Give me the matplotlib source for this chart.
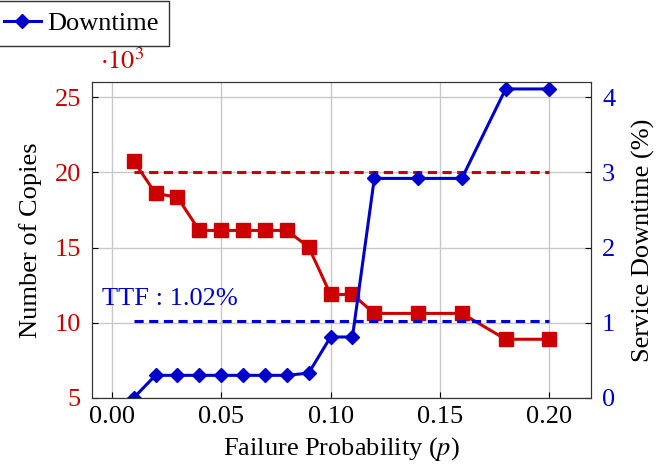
import matplotlib
matplotlib.use("Agg")
import matplotlib.pyplot as plt

plt.rcParams['font.family'] = ['Liberation Serif', 'DejaVu Serif']
plt.rcParams['mathtext.fontset'] = 'stix'

p = [0.01, 0.02, 0.03, 0.04, 0.05, 0.06, 0.07, 0.08, 0.09, 0.10, 0.11, 0.12, 0.14, 0.16, 0.18, 0.20]
copies = [20.77, 18.6, 18.35, 16.14, 16.14, 16.14, 16.14, 16.14, 15.03, 11.88, 11.88, 10.62, 10.62, 10.62, 8.9, 8.9]
downtime = [0.0, 0.30, 0.30, 0.30, 0.30, 0.30, 0.30, 0.30, 0.33, 0.81, 0.81, 2.92, 2.92, 2.92, 4.11, 4.11]
copies_ref = 20
ttf = 1.02
xticks = [0.00, 0.05, 0.10, 0.15, 0.20]
left_ticks = [5, 10, 15, 20, 25]
right_ticks = [0, 1, 2, 3, 4]

RED = '#cc0000'
BLUE = '#0000cc'
FS = 19

fig = plt.figure(figsize=(6.67, 4.67), dpi=100)
ax = fig.add_axes([0.138, 0.148, 0.748, 0.676])
ax2 = ax.twinx()

ax.plot([p[0], p[-1]], [copies_ref, copies_ref], color=RED, lw=2.2, ls=(0, (3, 1.8)))
ax.plot(p, copies, color=RED, lw=2.2, marker='s', ms=10)
ax2.plot([p[0], p[-1]], [ttf, ttf], color=BLUE, lw=2.2, ls=(0, (3, 1.8)))
line, = ax2.plot(p, downtime, color=BLUE, lw=2.2, marker='D', ms=7, label='Downtime')
ax2.text(-0.0046, 1.32, 'TTF : 1.02%', color=BLUE, fontsize=FS, va='center', ha='left')

ax.set_xlim(-0.009, 0.219)
ax.set_ylim(5, 26)
ax2.set_ylim(0, 4.2)
ax.set_xticks(xticks)
ax.set_xticklabels([f'{v:.2f}' for v in xticks])
ax.set_yticks(left_ticks)
ax2.set_yticks(right_ticks)

ax.grid(True, color='#c8c8c8', lw=1)
ax.set_axisbelow(True)
ax.tick_params(axis='x', direction='in', labelsize=FS, colors='black', length=4, pad=6)
ax.tick_params(axis='y', direction='in', labelsize=FS, labelcolor=RED, length=4, pad=8)
ax2.tick_params(axis='y', direction='in', labelsize=FS, labelcolor=BLUE, length=4, pad=8)
for a in (ax, ax2):
    for s in a.spines.values():
        s.set_color('#333333')

ax.set_xlabel('Failure Probability ($p$)', fontsize=FS, labelpad=5)
ax.set_ylabel('Number of Copies', fontsize=FS, labelpad=9)
ax2.set_ylabel('Service Downtime (%)', fontsize=FS, labelpad=12)
fig.text(0.15, 0.87, r'$\cdot10^3$', color=RED, fontsize=FS, ha='left', va='center')

leg = fig.legend(handles=[line], loc='upper left', bbox_to_anchor=(-0.012, 1.0),
                 fontsize=FS, frameon=True, fancybox=False, edgecolor='black',
                 handlelength=1.4, handletextpad=0.25, borderaxespad=0.05,
                 borderpad=0.4)
leg.get_frame().set_linewidth(1)

fig.savefig('out.png', dpi=100)
